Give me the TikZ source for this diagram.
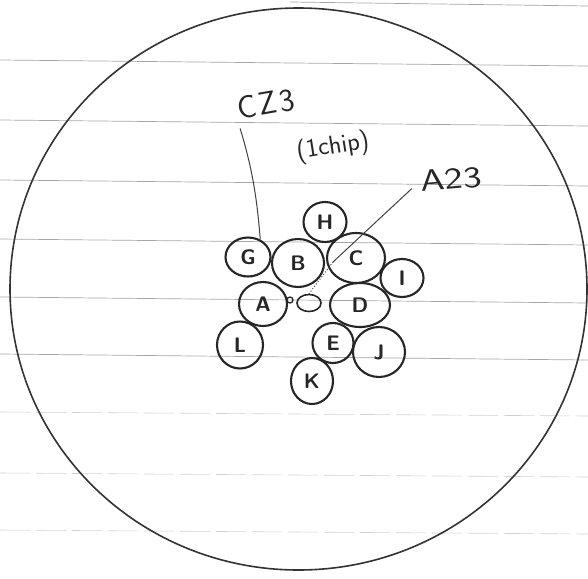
\documentclass[tikz,border=0pt]{standalone}
\usepackage{tikz}
\usetikzlibrary{shapes.geometric, positioning}

\begin{document}
\begin{tikzpicture}[x=1pt, y=-1pt,
  die/.style={ellipse, draw=black!85, line width=2.1pt, inner sep=0pt,
              font=\sffamily\bfseries\fontsize{21}{23}\selectfont, text=black!85},
  note/.style={font=\sffamily\fontsize{30}{32}\selectfont, text=black!85, inner sep=1pt},
  leader/.style={line width=1pt, black!75},
  rule/.style={line width=0.7pt, black!35},
  faintrule/.style={line width=0.6pt, black!18, dash pattern=on 30pt off 6pt}
]
  \useasboundingbox (0,0) rectangle (588,578);

  % ruled paper
  \foreach \y in {60,120,180,239,297,354} {
    \draw[rule] (0,\y) -- (588,\y+6);
  }
  \foreach \y in {412,473,530} {
    \draw[faintrule] (0,\y) -- (588,\y+4);
  }
  \draw[rule] (290,2) -- (588,6);

  % wafer outline
  \draw[line width=1.6pt, black!80] (298.5,289) ellipse [x radius=288.5pt, y radius=281pt];

  % dies
  \node[die, minimum width=43pt, minimum height=40pt] (H) at (325,222) {H};
  \node[die, minimum width=45pt, minimum height=39pt] (G) at (248,257) {G};
  \node[die, minimum width=52pt, minimum height=48pt] (B) at (298,263) {B};
  \node[die, minimum width=58pt, minimum height=50pt] (C) at (356,258) {C};
  \node[die, minimum width=43pt, minimum height=38pt] (I) at (402,278) {I};
  \node[die, minimum width=48pt, minimum height=44pt] (A) at (263,304) {A};
  \node[die, minimum width=60pt, minimum height=44pt] (D) at (360,305) {D};
  \node[die, minimum width=46pt, minimum height=47pt] (L) at (240,345) {L};
  \node[die, minimum width=41pt, minimum height=40pt] (E) at (333,343) {E};
  \node[die, minimum width=52pt, minimum height=50pt] (J) at (379,352) {J};
  \node[die, minimum width=42pt, minimum height=46pt] (K) at (312,381) {K};

  % small pad and dot between A and D
  \node[ellipse, draw=black!85, line width=1.6pt, inner sep=0pt,
        minimum width=24pt, minimum height=17pt] (pad) at (309,303) {};
  \node[circle, draw=black!85, line width=1.3pt, inner sep=0pt,
        minimum size=6pt] (dot) at (290,300) {};

  % notes
  \node[note, rotate=10, font=\sffamily\fontsize{32}{34}\selectfont] (cz3) at (266,104) {C\kern3pt Z\kern3pt 3};
  \node[note, rotate=9, font=\sffamily\fontsize{26}{28}\selectfont] (chip) at (333,147) {(1chip)};
  \node[note, rotate=5, xscale=1.3] (a23) at (451,179) {A23};

  % leaders
  \coordinate (kink) at (333,262);
  \draw[leader, shorten <=7pt] (cz3.south west) to[bend left=6] (G.55);
  \draw[leader, shorten <=10pt] (a23.west) -- (kink);
  \draw[leader, dotted] (kink) -- (pad.north);
\end{tikzpicture}
\end{document}
